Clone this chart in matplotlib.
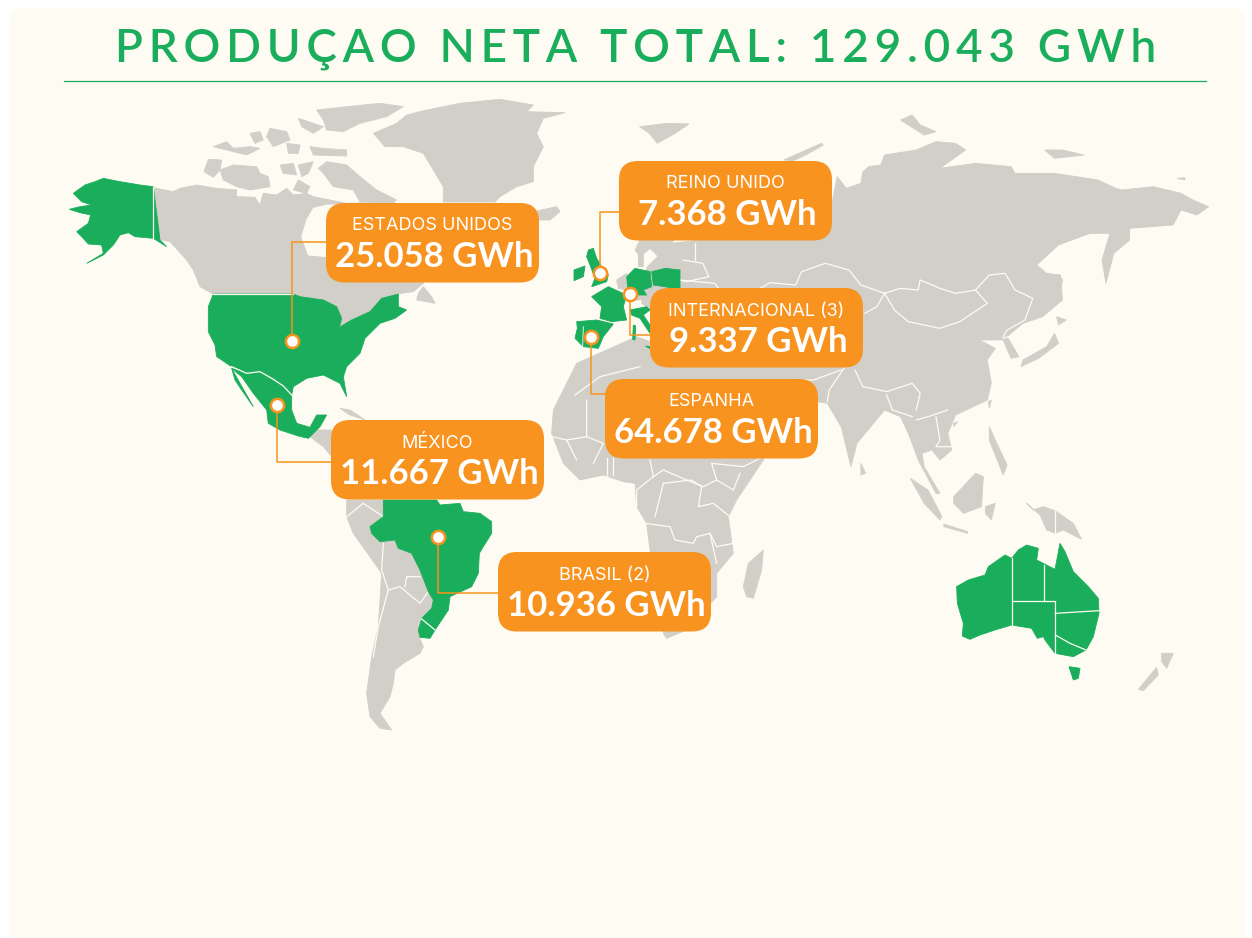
import matplotlib
matplotlib.use("Agg")
import matplotlib.pyplot as plt
from matplotlib.patches import FancyBboxPatch, Polygon

GREEN = "#1AAE5C"
ORANGE = "#F7931E"
GREY = "#D1CFC8"
CREAM = "#FEFBF3"

# outlines were traced from crops of the picture, so each group has its crop offset/scale
# north america crop
NA = (60, 90, 3, 3)
alaska = [(280,290),(240,285),(180,275),(130,265),(105,275),(75,285),(40,310),(65,335),(95,345),(60,350),(28,358),(60,368),(92,375),(85,400),(50,425),(65,440),(85,462),(125,465),(130,490),(80,520),(130,495),(160,465),(180,435),(205,428),(225,440),(280,445),(320,470),(300,450)]
canada = [(282,293),(340,305),(360,295),(410,285),(470,295),(530,300),(530,320),(585,322),(600,345),(610,310),(650,315),(680,295),(700,315),(740,310),(760,320),(810,330),(860,340),(1000,336),(1100,400),(1090,580),(1060,605),(1010,612),(965,625),(930,665),(875,690),(838,712),(845,685),(830,650),(790,630),(720,620),(700,612),(460,612),(420,590),(400,540),(380,510),(330,455),(282,445)]
hudson = [(760,355),(800,345),(900,345),(900,510),(800,500),(745,495),(725,440),(740,390)]
banks = [(432,245),(445,208),(485,210),(480,240),(460,262)]
victoria = [(480,240),(520,225),(590,230),(600,250),(625,260),(630,290),(570,300),(530,290),(490,270)]
queen_eliz = [(460,170),(500,155),(520,175),(570,170),(600,175),(560,195),(500,180)]
prince_p = [(570,130),(600,125),(610,150),(585,160)]
melville = [(630,115),(680,125),(690,150),(640,170),(620,140)]
bathurst = [(680,160),(720,165),(715,190),(685,190)]
axel = [(715,85),(760,100),(790,110),(760,130),(725,110)]
ellesmere = [(770,60),(860,50),(960,40),(1030,50),(980,80),(900,100),(850,125),(800,120),(790,90)]
devon = [(750,170),(790,175),(860,180),(860,198),(760,195)]
somerset = [(660,225),(700,220),(710,255),(670,250)]
boothia = [(715,225),(760,215),(745,250),(725,260)]
king_w = [(715,270),(750,290),(740,310),(700,300)]
baffin = [(775,235),(800,215),(860,225),(900,260),(950,300),(1010,330),(1000,336),(900,336),(880,300),(820,290),(790,250)]
greenland = [(940,130),(1010,100),(1040,75),(1100,60),(1200,40),(1320,28),(1420,45),(1400,65),(1515,68),(1450,85),(1430,130),(1450,170),(1420,230),(1420,275),(1370,290),(1320,320),(1305,336),(1150,336),(1150,290),(1120,240),(1090,190),(1030,170),(975,170)]
iceland = [(1420,365),(1490,350),(1500,365),(1470,390),(1430,390)]
newfoundland = [(1090,590),(1115,620),(1125,640),(1070,630),(1075,610)]
usa = [(460,612),(700,612),(720,620),(790,630),(830,650),(845,685),(838,712),(875,690),(930,665),(965,625),(1015,612),(1015,650),(1040,660),(1005,685),(960,700),(945,715),(915,745),(900,790),(860,830),(850,860),(860,920),(840,880),(790,855),(740,865),(700,890),(695,915),(665,885),(640,865),(600,845),(560,850),(515,830),(470,800),(465,765),(445,725),(445,650)]
mexico = [(515,835),(560,850),(600,845),(640,870),(670,890),(695,915),(695,960),(710,1000),(750,1012),(770,975),(800,975),(780,1010),(760,1030),(745,1045),(715,1038),(660,1020),(625,1000),(620,960),(580,910),(545,860)]
baja = [(515,835),(540,880),(580,950),(545,900),(525,870)]
central_am = [(750,1040),(770,1020),(815,1020),(815,1100),(790,1070)]
cuba = [(840,955),(870,960),(915,990),(870,975)]

# south america / africa crop
SA = (320, 400, 3, 3)
south_am = [(80,300),(190,300),(190,350),(150,380),(155,400),(180,425),(225,420),(235,445),(275,460),(300,510),(325,575),(340,600),(335,625),(305,655),(295,705),(310,740),(300,760),(250,790),(225,810),(220,850),(210,890),(180,940),(215,990),(180,985),(150,950),(140,880),(155,770),(175,680),(185,520),(150,470),(100,400),(80,350)]
brazil = [(190,300),(350,300),(360,315),(420,310),(430,335),(480,340),(515,365),(515,400),(490,440),(478,460),(475,520),(455,560),(390,590),(385,630),(345,690),(305,655),(335,625),(340,600),(325,575),(300,510),(275,460),(235,445),(225,420),(180,425),(155,400),(150,380),(190,350)]
uruguay = [(305,658),(345,690),(330,715),(300,712),(295,690)]
madagascar = [(1330,450),(1325,510),(1300,595),(1280,590),(1270,560),(1285,490)]
africa = [(1330,180),(1250,300),(1225,350),(1240,460),(1190,520),(1190,590),(1100,690),(1040,715),(1030,700),(990,450),(980,370),(950,320),(945,250),(910,245),(850,225),(780,240),(730,190),(695,100),(700,30),(770,-110),(860,-150),(950,-190),(1200,-100),(1350,-30)]
sa_africa_borders = [
    [(190,430),(185,510),(205,570),(240,560),(300,610),(325,575)],
    [(255,560),(260,530),(300,530)],
    [(80,350),(130,310),(190,350)],
    [(205,570),(175,680),(160,770)],
    [(695,110),(740,120),(770,180)],
    [(740,120),(800,110),(800,0)],
    [(800,110),(850,130),(820,190)],
    [(860,175),(860,230)],
    [(880,175),(880,225)],
    [(990,180),(1000,230),(950,270),(950,320)],
    [(1000,230),(1030,210),(1100,240),(1150,260),(1190,240),(1175,190),(1270,200),(1320,175)],
    [(1190,240),(1240,270),(1260,220)],
    [(1030,250),(1115,240),(1145,260),(1135,320),(1180,310),(1230,350),(1240,430),(1190,440),(1170,400),(1130,410),(1120,430),(1065,420),(1050,380),(975,370)],
    [(1005,350),(1030,250)],
    [(1170,400),(1190,490)],
]

# europe crop
EU = (540, 150, 3, 3)
uk = [(145,300),(160,295),(170,325),(185,350),(205,375),(200,395),(155,410),(165,385),(150,345),(140,320)]
ireland = [(102,360),(135,348),(130,380),(102,392)]
france = [(155,440),(205,410),(260,435),(250,470),(260,510),(215,515),(180,505),(185,470)]
germany = [(260,380),(285,355),(330,365),(335,410),(310,420),(320,435),(265,435)]
poland = [(335,365),(375,355),(420,360),(420,420),(375,410),(340,405)]
italy = [(270,480),(320,470),(330,480),(310,495),(340,540),(330,550),(300,505),(275,495)]
sardinia = [(280,525),(287,528),(285,570),(278,568)]
sicily = [(316,588),(330,590),(330,596)]
iberia = [(110,515),(170,510),(220,522),(190,560),(175,595),(130,590),(105,565),(112,535)]
portugal_line = [(130,530),(128,590)]
scandinavia = [(300,270),(380,260),(400,270),(390,310),(360,325),(330,295),(300,320),(285,300)]
denmark = [(295,310),(310,305),(310,350),(295,350)]
benelux = [(230,390),(260,370),(262,420),(235,415)]
central_eu = [(310,420),(340,405),(420,410),(420,470),(330,480),(320,470),(305,460)]
iberia_africa_border = [(105,735),(180,680),(300,650)]

# asia crop, this one came back squeezed in x
AS = (600, 100, 2.53, 3)
eurasia = [(585,320),(600,230),(640,290),(650,298),(610,270),(660,250),(665,215),(680,200),(710,195),(720,165),(800,150),(850,125),(900,130),(925,150),(860,205),(950,190),(1040,200),(1050,220),(1150,220),(1260,240),(1305,265),(1320,270),(1400,260),(1470,280),(1500,300),(1540,320),(1510,345),(1470,330),(1450,375),(1340,385),(1340,420),(1300,460),(1280,550),(1270,480),(1290,400),(1240,400),(1160,435),(1105,495),(1130,520),(1165,525),(1170,600),(1120,650),(1070,670),(1030,710),(1060,770),(1040,775),(1020,720),(960,720),(1000,745),(980,780),(990,850),(980,900),(900,945),(880,1000),(890,1050),(860,1080),(840,1050),(815,1060),(820,1100),(860,1180),(850,1180),(805,1080),(780,1000),(760,950),(720,930),(650,1030),(635,1100),(610,980),(575,910),(550,905),(500,1000),(300,1000),(150,850),(130,700),(130,600),(90,600),(120,500),(180,430),(250,420)]
asia_borders = [
    [(405,565),(430,548),(495,555),(510,515),(570,490),(630,510),(660,555),(720,580)],
    [(720,580),(760,565),(805,570),(810,540),(860,565),(900,580),(950,570),(980,610),(910,665),(860,685),(780,665),(745,630),(720,580)],
    [(950,570),(985,525),(1025,520),(1050,570),(1095,595),(1075,660),(1030,690),(1020,710)],
    [(720,580),(700,620),(670,640)],
    [(645,810),(665,860),(725,875),(790,850),(810,880),(800,930)],
    [(620,800),(580,870),(575,905)],
    [(725,885),(740,930),(790,950)],
    [(800,960),(830,950),(880,930)],
    [(850,950),(860,1020),(850,1040),(890,1040)],
    [(1020,715),(1060,700)],
    [(510,840),(540,840),(610,810)],
    [(210,480),(260,490),(275,530),(220,545),(200,540)],
    [(240,430),(240,480)],
    [(200,540),(290,550),(300,565)],
]
svalbard = [(100,80),(170,70),(225,72),(190,100),(145,130),(125,100)]
novaya = [(465,180),(560,130),(565,135),(520,165),(490,182)]
severnaya = [(760,60),(790,45),(810,75),(850,95),(820,105)]
new_sib = [(1125,150),(1170,150),(1225,165),(1150,175)]
wrangel = [(1460,235),(1480,233),(1480,240)]
sumatra = [(785,1135),(830,1170),(865,1250),(860,1260),(820,1210)]
java = [(870,1272),(930,1295),(930,1300),(870,1280)]
borneo = [(895,1190),(950,1120),(970,1130),(965,1220),(920,1240),(895,1210)]
sulawesi = [(975,1220),(1000,1210),(990,1260),(975,1240)]
philippines = [(985,980),(1000,1020),(1030,1095),(1020,1125),(985,1020)]
sri_lanka = [(660,1090),(672,1120),(660,1125)]
honshu = [(1150,700),(1160,730),(1110,775),(1065,800),(1070,780),(1130,740)]
hokkaido = [(1155,650),(1180,660),(1160,675)]
sakhalin = [(1162,525),(1170,540),(1160,600),(1155,560)]
taiwan = [(990,900),(985,925),(983,905)]
hainan = [(895,970),(905,965),(895,980)]

# oceania crop
OC = (900, 480, 3, 3)
australia = [(170,320),(205,300),(255,285),(265,260),(315,225),(335,235),(355,210),(380,195),(415,205),(410,240),(465,268),(480,190),(495,215),(520,275),(565,320),(595,355),(597,400),(580,470),(558,510),(520,530),(465,520),(435,480),(430,470),(412,475),(395,445),(335,435),(285,450),(240,465),(210,478),(187,468),(190,430),(172,370)]
aus_states = [
    [(337,235),(337,435)],
    [(337,363),(466,363),(466,520)],
    [(433,255),(433,363)],
    [(466,400),(597,392)],
    [(466,465),(510,490),(558,510)],
]
tasmania = [(507,560),(540,565),(535,595),(520,600)]
new_guinea = [(380,70),(400,90),(430,80),(465,92),(520,130),(545,178),(490,150),(465,160),(440,150),(420,105)]
png_line = [(466,92),(466,162)]
nz_north = [(785,520),(820,520),(800,565),(785,545)]
nz_south = [(770,562),(775,585),(730,632),(715,628)]

title = "PRODUÇAO NETA TOTAL: 129.043 GWh"
labels = ["ESTADOS UNIDOS", "REINO UNIDO", "INTERNACIONAL (3)", "ESPANHA", "MÉXICO", "BRASIL (2)"]
values = ["25.058 GWh", "7.368 GWh", "9.337 GWh", "64.678 GWh", "11.667 GWh", "10.936 GWh"]
card_left = [326, 619, 650, 605, 331, 498]
card_top = [203, 161, 288, 379, 420, 552]
# marker, then the leader corner where it turns towards the card
marker_x = [292, 600, 630, 591, 277, 438]
marker_y = [341, 273, 294, 337, 405, 537]
leader_y = [242, 212, 335, 394, 462, 593]


def px(pts, crop):
    ox, oy, sx, sy = crop
    return [(ox + x / sx, oy + y / sy) for x, y in pts]


fig = plt.figure(figsize=(12.52, 9.38), dpi=100, facecolor="white")
ax = fig.add_axes([0, 0, 1, 1])
ax.set_xlim(0, 1252)
ax.set_ylim(938, 0)
ax.axis("off")

ax.add_patch(FancyBboxPatch((9, 8), 1236, 960, boxstyle="round,pad=0,rounding_size=15",
                            fc=CREAM, ec="none", zorder=0))


def land(pts, crop, color=GREY, z=1, edge=None):
    ax.add_patch(Polygon(px(pts, crop), closed=True, fc=color, ec=edge or color, lw=0.6, zorder=z))


def border(pts, crop, z=2, lw=0.9):
    xy = px(pts, crop)
    ax.plot([p[0] for p in xy], [p[1] for p in xy], color=CREAM, lw=lw, zorder=z)


for shape in [canada, banks, victoria, queen_eliz, prince_p, melville, bathurst, axel, ellesmere, devon,
              somerset, boothia, king_w, baffin, greenland, iceland, newfoundland, central_am, cuba]:
    land(shape, NA)
land(hudson, NA, color=CREAM, z=1.2)
for shape in [south_am, africa, madagascar]:
    land(shape, SA)
for shape in [eurasia, svalbard, novaya, severnaya, new_sib, wrangel, sumatra, java, borneo, sulawesi,
              philippines, sri_lanka, honshu, hokkaido, sakhalin, taiwan, hainan]:
    land(shape, AS)
for shape in [scandinavia, denmark, benelux, central_eu]:
    land(shape, EU)
for shape in [new_guinea, nz_north, nz_south]:
    land(shape, OC)

for line in sa_africa_borders:
    border(line, SA)
border(iberia_africa_border, EU)
for line in asia_borders:
    border(line, AS)
border(png_line, OC)

for shape in [alaska, usa, mexico, baja]:
    land(shape, NA, color=GREEN, z=3, edge=GREEN)
border([(280, 290), (280, 445)], NA, z=3.5)
border([(460, 612), (700, 612)], NA, z=3.5)
border([(515, 830), (560, 850), (600, 845), (640, 868), (670, 888), (695, 915)], NA, z=3.5)
land(brazil, SA, color=GREEN, z=3)
land(uruguay, SA, color=GREEN, z=3)
border([(305, 657), (345, 690)], SA, z=3.5)
for shape in [uk, ireland, france, germany, poland, italy, sardinia, sicily, iberia]:
    land(shape, EU, color=GREEN, z=3)
border(portugal_line, EU, z=3.5, lw=0.6)
land(australia, OC, color=GREEN, z=3)
land(tasmania, OC, color=GREEN, z=3)
for line in aus_states:
    border(line, OC, z=3.5)

ax.text(636, 49, "\u200a\u200a".join(title), color=GREEN, ha="center", va="center",
        fontsize=33, family=["Lato", "DejaVu Sans"], fontweight="semibold", zorder=10)
ax.plot([64, 1206], [81, 81], color=GREEN, lw=0.9, zorder=10)

card_w, card_h = 213, 79.5
for i in range(len(labels)):
    x0, y0 = card_left[i], card_top[i]
    mx, my, ly = marker_x[i], marker_y[i], leader_y[i]
    ax.plot([mx, mx, x0], [my, ly, ly], color=ORANGE, lw=1.1, zorder=5)
    ax.plot(mx, my, "o", ms=9.5, mfc="white", mec=ORANGE, mew=1.8, zorder=6)
    ax.add_patch(FancyBboxPatch((x0, y0), card_w, card_h, boxstyle="round,pad=0,rounding_size=19",
                                fc=ORANGE, ec="none", zorder=7))
    ax.text(x0 + card_w / 2, y0 + 23, labels[i], color="white", ha="center", va="center",
            fontsize=13, family="Inter", fontweight="normal", zorder=8)
    ax.text(x0 + card_w / 2 + 2, y0 + 54, values[i], color="white", ha="center", va="center",
            fontsize=25, family="Lato", fontweight="bold", zorder=8)

fig.savefig("out.png", dpi=100)
